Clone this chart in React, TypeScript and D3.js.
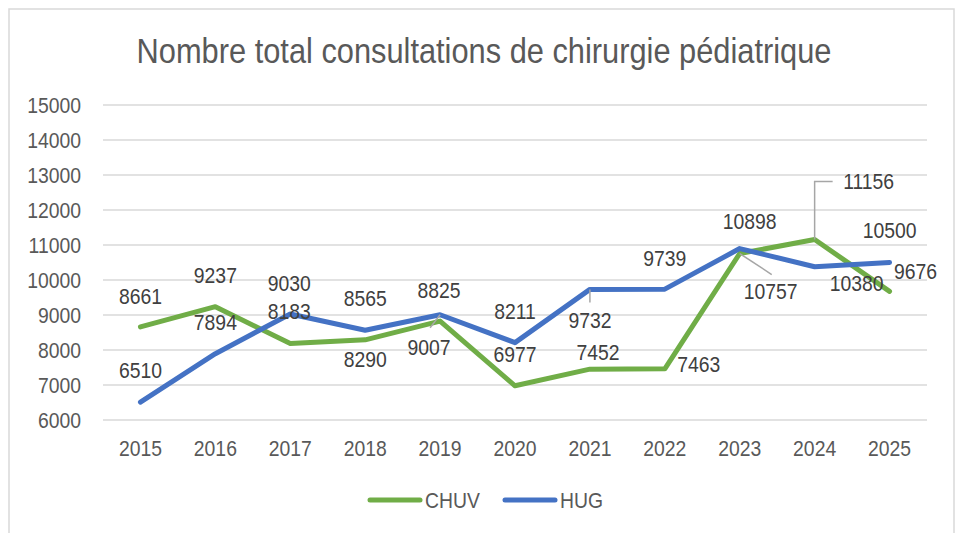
import React from "react";
import * as d3 from "d3";

// data
const years = ["2015", "2016", "2017", "2018", "2019", "2020", "2021", "2022", "2023", "2024", "2025"];
const chuv = [8661, 9237, 8183, 8290, 8825, 6977, 7452, 7463, 10757, 11156, 9676];
const hug = [6510, 7894, 9030, 8565, 9007, 8211, 9732, 9739, 10898, 10380, 10500];
const yTicks = [6000, 7000, 8000, 9000, 10000, 11000, 12000, 13000, 14000, 15000];

// label placement (offset from the point, in px) and leader lines
const chuvLabelPos: [number, number][] = [
  [0, -31], [0, -32], [-1, -33], [0, 19], [-1, -31], [0, -32], [8, -17], [34, -5], [31, 38], [54, -58], [26, -20],
];
const hugLabelPos: [number, number][] = [
  [0, -32], [0, -32], [-1, -31], [0, -32], [-11, 32], [0, -32], [0, 31], [0, -31], [10, -27], [42, 16], [0, -32],
];
const chuvLeaders: Record<number, [number, number][]> = {
  8: [[0, 0], [32, 21]],
  9: [[0, 0], [0, -58], [18, -58]],
};
const hugLeaders: Record<number, [number, number][]> = {
  4: [[0, 0], [-10, 13]],
  6: [[0, 0], [0, 13]],
};

const W = 956;
const H = 533;
const FONT = "'Liberation Sans', Arial, sans-serif";
const TEXT = "#595959";
const GREEN = "#70ad47";
const BLUE = "#4472c4";
const SQUEEZE = 0.88; // the original uses a narrow face

function T(props: { x: number; y: number; size: number; anchor?: string; fill?: string; dy?: string; children: React.ReactNode }) {
  const { x, y, size, anchor = "start", fill = TEXT, dy, children } = props;
  return (
    <text
      transform={`translate(${x},${y}) scale(${SQUEEZE},1)`}
      dy={dy}
      textAnchor={anchor}
      fontSize={size}
      fill={fill}
    >
      {children}
    </text>
  );
}

export default function App() {
  const x = d3.scaleBand().domain(years).range([103, 927]).padding(0);
  const y = d3.scaleLinear().domain([6000, 15000]).range([420, 105]);
  const cx = (i: number) => (x(years[i]) as number) + x.bandwidth() / 2;

  const line = d3
    .line<number>()
    .x((_, i) => cx(i))
    .y((d) => y(d));

  const series = [
    { name: "CHUV", values: chuv, color: GREEN, pos: chuvLabelPos, leaders: chuvLeaders },
    { name: "HUG", values: hug, color: BLUE, pos: hugLabelPos, leaders: hugLeaders },
  ];

  return (
    <svg width={W} height={H} style={{ position: "absolute", left: 0, top: 0 }} fontFamily={FONT}>
      <rect x={0} y={0} width={W} height={H} fill="#fff" />
      <rect x={9} y={9} width={945} height={560} fill="#fff" stroke="#d9d9d9" strokeWidth={1.5} />

      <T x={484} y={63} size={35} anchor="middle">
        Nombre total consultations de chirurgie pédiatrique
      </T>

      {/* gridlines + y labels */}
      {yTicks.map((t) => (
        <g key={t}>
          <line x1={103} x2={927} y1={y(t)} y2={y(t)} stroke="#d9d9d9" strokeWidth={1.5} />
          <T x={81} y={y(t)} dy="0.36em" anchor="end" size={22}>
            {t}
          </T>
        </g>
      ))}

      {/* x labels */}
      {years.map((yr, i) => (
        <T key={yr} x={cx(i)} y={456} anchor="middle" size={22}>
          {yr}
        </T>
      ))}

      {/* lines */}
      {series.map((s) => (
        <path
          key={s.name}
          d={line(s.values) ?? ""}
          fill="none"
          stroke={s.color}
          strokeWidth={5}
          strokeLinejoin="round"
          strokeLinecap="round"
        />
      ))}

      {/* leader lines */}
      {series.map((s) =>
        Object.entries(s.leaders).map(([k, pts]) => {
          const i = +k;
          const p = pts.map(([dx, dy]) => [cx(i) + dx, y(s.values[i]) + dy] as [number, number]);
          return (
            <path
              key={s.name + k}
              d={d3.line()(p) ?? ""}
              fill="none"
              stroke="#a6a6a6"
              strokeWidth={1.5}
            />
          );
        })
      )}

      {/* data labels */}
      {series.map((s) =>
        s.values.map((v, i) => (
          <T
            key={s.name + i}
            x={cx(i) + s.pos[i][0]}
            y={y(v) + s.pos[i][1]}
            dy="0.36em"
            anchor="middle"
            size={22}
            fill="#404040"
          >
            {v}
          </T>
        ))
      )}

      {/* legend */}
      {series.map((s, i) => {
        const lx = 368 + i * 135;
        return (
          <g key={s.name}>
            <line x1={lx + 2} x2={lx + 52} y1={500} y2={500} stroke={s.color} strokeWidth={5} strokeLinecap="round" />
            <T x={lx + 57} y={500} dy="0.36em" size={22}>
              {s.name}
            </T>
          </g>
        );
      })}
    </svg>
  );
}
